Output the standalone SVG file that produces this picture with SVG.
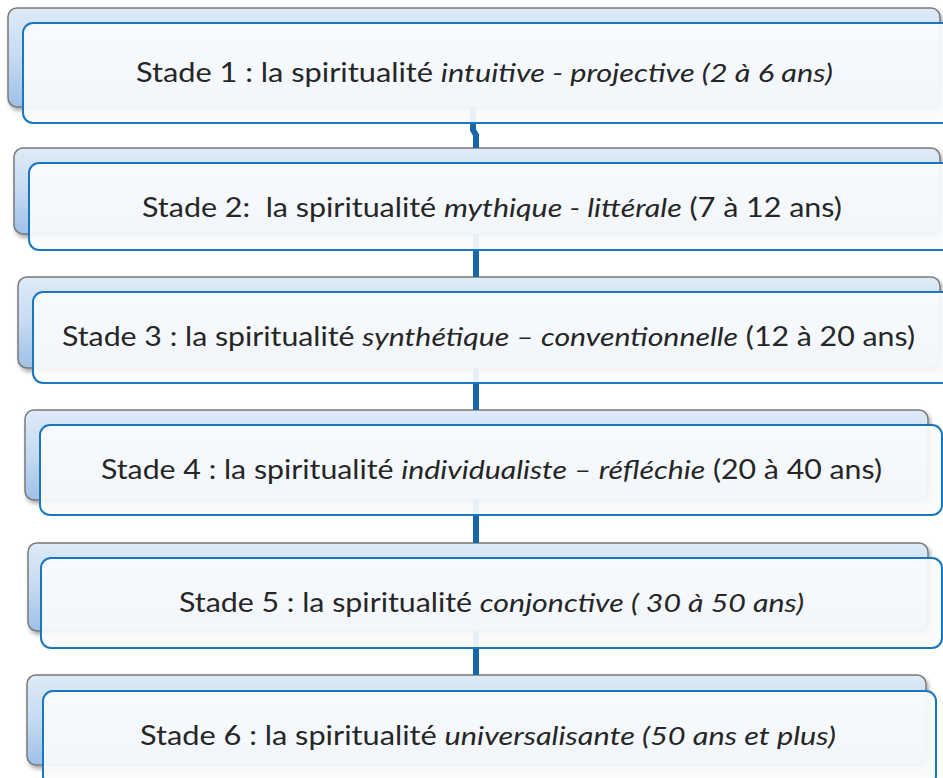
<svg xmlns="http://www.w3.org/2000/svg" width="943" height="778" viewBox="0 0 943 778">
<defs>
<linearGradient id="bg" x1="0" y1="0" x2="0" y2="1">
<stop offset="0" stop-color="#deebf7"/>
<stop offset="0.5" stop-color="#c6daf1"/>
<stop offset="1" stop-color="#9ec0e8"/>
</linearGradient>
<filter id="sh" x="-5%" y="-10%" width="110%" height="130%">
<feDropShadow dx="2" dy="3" stdDeviation="2" flood-color="#000" flood-opacity="0.35"/>
</filter>
</defs>
<style>
.back{fill:url(#bg);stroke:#7a7a7a;stroke-width:1.5;filter:url(#sh)}
.front{fill:#f9fbfd;fill-opacity:0.93;stroke:#1877c0;stroke-width:2}
.conn{fill:none;stroke:#1766a8;stroke-width:6}
.t{font-family:Lato,"Open Sans","Liberation Sans",sans-serif;font-size:26px;fill:#262626;text-anchor:middle}
.i{font-style:italic}
</style>
<rect width="943" height="778" fill="#ffffff"/>
<g id="backs">
<rect class="back" x="8" y="8" width="932" height="99" rx="9"/>
<rect class="back" x="14" y="148" width="926" height="86" rx="9"/>
<rect class="back" x="18" y="277" width="922" height="91" rx="9"/>
<rect class="back" x="25" y="410" width="903" height="90" rx="9"/>
<rect class="back" x="28" y="543" width="900" height="88" rx="9"/>
<rect class="back" x="27" y="675" width="899" height="90" rx="9"/>
</g>
<g id="connectors">
<path class="conn" d="M473,107 L473,130 L476,135 L476,148"/>
<path class="conn" d="M476,234 L476,277"/>
<path class="conn" d="M476,368 L476,410"/>
<path class="conn" d="M476,500 L476,543"/>
<path class="conn" d="M476,631 L476,675"/>
</g>
<g id="node1">
<rect class="front" x="23" y="23" width="945" height="100" rx="10"/>
<text class="t" x="484.5" y="82" textLength="697" lengthAdjust="spacingAndGlyphs">Stade 1 : la spiritualité <tspan class="i">intuitive - projective (2 à 6 ans)</tspan></text>
</g>
<g id="node2">
<rect class="front" x="29" y="163" width="930" height="87" rx="10"/>
<text class="t" x="492" y="217" textLength="700" lengthAdjust="spacingAndGlyphs" xml:space="preserve">Stade 2:  la spiritualité <tspan class="i">mythique - littérale</tspan> (7 à 12 ans)</text>
</g>
<g id="node3">
<rect class="front" x="33" y="292" width="925" height="91" rx="10"/>
<text class="t" x="488.5" y="346" textLength="853" lengthAdjust="spacingAndGlyphs">Stade 3 : la spiritualité <tspan class="i">synthétique – conventionnelle</tspan> (12 à 20 ans)</text>
</g>
<g id="node4">
<rect class="front" x="40" y="425" width="902" height="90" rx="10"/>
<text class="t" x="491.5" y="479" textLength="781" lengthAdjust="spacingAndGlyphs">Stade 4 : la spiritualité <tspan class="i">individualiste – réfléchie</tspan> (20 à 40 ans)</text>
</g>
<g id="node5">
<rect class="front" x="41" y="558" width="901" height="90" rx="10"/>
<text class="t" x="491.5" y="612" textLength="625" lengthAdjust="spacingAndGlyphs">Stade 5 : la spiritualité <tspan class="i">conjonctive ( 30 à 50 ans)</tspan></text>
</g>
<g id="node6">
<rect class="front" x="43" y="691" width="893" height="95" rx="10"/>
<text class="t" x="488" y="745" textLength="696" lengthAdjust="spacingAndGlyphs">Stade 6 : la spiritualité <tspan class="i">universalisante (50 ans et plus)</tspan></text>
</g>
</svg>
